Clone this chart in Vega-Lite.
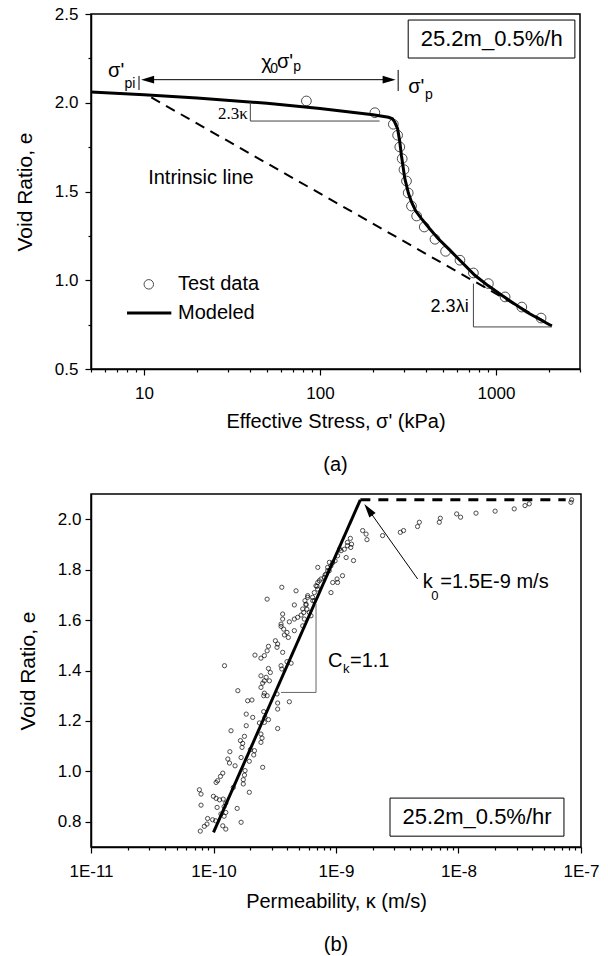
{
"$schema": "https://vega.github.io/schema/vega-lite/v6.json",
"padding": {"left": 13, "top": 4, "right": 0, "bottom": 0},
"spacing": 17,
"config": {
  "font": "Liberation Sans",
  "view": {"stroke": "black", "strokeWidth": 1.5},
  "axis": {"domainColor": "black", "domainWidth": 1.5, "tickColor": "black", "tickWidth": 1.2, "labelFont": "Liberation Sans", "labelFontSize": 17, "labelColor": "black", "titleFont": "Liberation Sans", "titleFontSize": 20, "titleFontWeight": "normal", "titleColor": "black", "grid": false, "labelPadding": 5, "labelOverlap": false, "labelFlush": false},
  "axisY": {"titleFontSize": 21},
  "title": {"font": "Liberation Sans", "fontSize": 20, "fontWeight": "normal", "color": "black"}
},
"datasets": {
  "a_test": [{"stress":83.7,"e":2.01},{"stress":205,"e":1.944},{"stress":261,"e":1.879},{"stress":276,"e":1.817},{"stress":284,"e":1.751},{"stress":293,"e":1.685},{"stress":300,"e":1.623},{"stress":310,"e":1.559},{"stress":317,"e":1.492},{"stress":331,"e":1.418},{"stress":354,"e":1.362},{"stress":391,"e":1.300},{"stress":450,"e":1.231},{"stress":517,"e":1.163},{"stress":624,"e":1.113},{"stress":744,"e":1.041},{"stress":905,"e":0.981},{"stress":1126,"e":0.906},{"stress":1401,"e":0.849},{"stress":1803,"e":0.787}],
  "a_model": [{"stress":5,"e":2.06},{"stress":10,"e":2.045},{"stress":20,"e":2.027},{"stress":50,"e":1.997},{"stress":100,"e":1.968},{"stress":200,"e":1.932},{"stress":245,"e":1.918},{"stress":258,"e":1.91},{"stress":266,"e":1.89},{"stress":276,"e":1.854},{"stress":284,"e":1.78},{"stress":290,"e":1.704},{"stress":303,"e":1.575},{"stress":318,"e":1.49},{"stress":331,"e":1.441},{"stress":350,"e":1.39},{"stress":377,"e":1.347},{"stress":420,"e":1.29},{"stress":470,"e":1.234},{"stress":540,"e":1.175},{"stress":611,"e":1.121},{"stress":758,"e":1.028},{"stress":900,"e":0.97},{"stress":1078,"e":0.915},{"stress":1500,"e":0.82},{"stress":2075,"e":0.742}],
  "a_intrinsic": [{"stress":11,"e":2.03},{"stress":2075,"e":0.745}],
  "a_box": [{"stress":317,"stress2":2806,"e":2.466,"e2":2.252}],
  "a_boxlabel": [{"stress":945,"e":2.359,"label":"25.2m_0.5%/h"}],
  "a_slopes": [{"stress":40.2,"stress2":40.2,"e":1.897,"e2":2.003},{"stress":40.2,"stress2":218,"e":1.897,"e2":1.897},{"stress":744,"stress2":744,"e":0.981,"e2":0.737},{"stress":744,"stress2":2075,"e":0.737,"e2":0.737}],
  "a_arrow": [{"stress":10.49,"stress2":247,"e":2.13,"e2":2.13},{"stress":9.37,"stress2":9.37,"e":2.072,"e2":2.151},{"stress":278,"stress2":278,"e":2.066,"e2":2.185}],
  "a_headleft": [{"stress":10.49,"e":2.13}],
  "a_headright": [{"stress":247,"e":2.13}],
  "a_text": [{"stress":10.56,"e":1.576,"label":"Intrinsic line"},{"stress":15.6,"e":0.979,"label":"Test data"},{"stress":15.6,"e":0.818,"label":"Modeled"},{"stress":6.25,"e":2.179,"label":"σ'"},{"stress":46.4,"e":2.224,"label":"χ"},{"stress":56.9,"e":2.23,"label":"σ'"},{"stress":317,"e":2.089,"label":"σ'"}],
  "a_sub": [{"stress":7.75,"e":2.106,"label":"pi"},{"stress":52.2,"e":2.19,"label":"0"},{"stress":70.5,"e":2.201,"label":"p"},{"stress":395,"e":2.044,"label":"p"}],
  "a_kappa": [{"stress":38.9,"e":1.937,"label":"2.3κ"}],
  "a_lambda": [{"stress":699,"e":0.849,"label":"2.3λi"}],
  "a_legpoint": [{"stress":10.65,"e":0.977}],
  "a_legline": [{"stress":8.01,"stress2":14.3,"e":0.816,"e2":0.816}],
  "b_scatter": [{"k":1.90e-10,"e":1.280},{"k":2.06e-10,"e":1.283},{"k":3.34e-10,"e":1.271},{"k":3.34e-10,"e":1.247},{"k":4.16e-10,"e":1.276},{"k":1.85e-10,"e":1.227},{"k":2.09e-10,"e":1.214},{"k":2.57e-10,"e":1.237},{"k":2.63e-10,"e":1.214},{"k":2.81e-10,"e":1.205},{"k":2.60e-10,"e":1.194},{"k":2.37e-10,"e":1.192},{"k":1.85e-10,"e":1.181},{"k":1.39e-10,"e":1.161},{"k":3.34e-10,"e":1.170},{"k":1.79e-10,"e":1.139},{"k":1.66e-10,"e":1.122},{"k":2.44e-10,"e":1.148},{"k":2.49e-10,"e":1.132},{"k":2.44e-10,"e":1.115},{"k":1.73e-10,"e":1.111},{"k":1.71e-10,"e":1.095},{"k":1.36e-10,"e":1.078},{"k":2.00e-10,"e":1.086},{"k":2.16e-10,"e":1.082},{"k":2.13e-10,"e":1.065},{"k":1.31e-10,"e":1.049},{"k":1.35e-10,"e":1.033},{"k":1.68e-10,"e":1.055},{"k":1.50e-10,"e":1.022},{"k":1.96e-10,"e":1.040},{"k":1.81e-10,"e":1.003},{"k":1.79e-10,"e":0.985},{"k":1.75e-10,"e":0.967},{"k":1.75e-10,"e":0.950},{"k":2.52e-10,"e":1.016},{"k":1.19e-10,"e":0.993},{"k":1.14e-10,"e":0.980},{"k":1.08e-10,"e":0.963},{"k":1.05e-10,"e":0.956},{"k":1.45e-10,"e":0.936},{"k":7.67e-11,"e":0.927},{"k":7.91e-11,"e":0.910},{"k":1.96e-10,"e":0.917},{"k":9.98e-11,"e":0.901},{"k":1.05e-10,"e":0.893},{"k":1.12e-10,"e":0.887},{"k":1.20e-10,"e":0.890},{"k":1.26e-10,"e":0.874},{"k":7.91e-11,"e":0.866},{"k":1.07e-10,"e":0.857},{"k":1.22e-10,"e":0.860},{"k":1.56e-10,"e":0.853},{"k":1.26e-10,"e":0.837},{"k":1.15e-10,"e":0.831},{"k":1.22e-10,"e":0.822},{"k":9.84e-11,"e":0.808},{"k":1.04e-10,"e":0.804},{"k":8.95e-11,"e":0.813},{"k":8.85e-11,"e":0.791},{"k":8.41e-11,"e":0.782},{"k":7.80e-11,"e":0.763},{"k":1.19e-10,"e":0.784},{"k":1.26e-10,"e":0.771},{"k":1.68e-10,"e":0.798},
    {"k":1.07e-9,"e":1.882},{"k":9.83e-10,"e":1.835},{"k":8.83e-10,"e":1.829},{"k":8.55e-10,"e":1.796},{"k":8.15e-10,"e":1.779},{"k":7.55e-10,"e":1.763},{"k":7.10e-10,"e":1.749},{"k":7.00e-10,"e":1.734},{"k":7.10e-10,"e":1.809},{"k":1.02e-9,"e":1.763},{"k":6.46e-10,"e":1.677},{"k":5.87e-10,"e":1.697},{"k":5.58e-10,"e":1.677},{"k":5.69e-10,"e":1.660},{"k":5.35e-10,"e":1.644},{"k":4.72e-10,"e":1.716},{"k":4.57e-10,"e":1.660},{"k":3.61e-10,"e":1.730},{"k":2.74e-10,"e":1.683},{"k":5.19e-10,"e":1.620},{"k":4.86e-10,"e":1.611},{"k":4.57e-10,"e":1.604},{"k":4.16e-10,"e":1.593},{"k":3.67e-10,"e":1.624},{"k":3.67e-10,"e":1.604},{"k":3.56e-10,"e":1.584},{"k":3.56e-10,"e":1.575},{"k":3.74e-10,"e":1.564},{"k":3.98e-10,"e":1.551},{"k":3.79e-10,"e":1.541},{"k":4.08e-10,"e":1.531},{"k":4.57e-10,"e":1.558},{"k":3.20e-10,"e":1.518},{"k":3.34e-10,"e":1.505},{"k":3.30e-10,"e":1.492},{"k":2.81e-10,"e":1.496},{"k":2.74e-10,"e":1.478},{"k":2.60e-10,"e":1.459},{"k":2.44e-10,"e":1.449},{"k":2.18e-10,"e":1.461},{"k":3.67e-10,"e":1.472},{"k":4.30e-10,"e":1.429},{"k":3.98e-10,"e":1.435},{"k":3.56e-10,"e":1.419},{"k":3.61e-10,"e":1.406},{"k":2.81e-10,"e":1.408},{"k":2.91e-10,"e":1.392},{"k":2.44e-10,"e":1.379},{"k":2.69e-10,"e":1.373},{"k":2.60e-10,"e":1.359},{"k":2.86e-10,"e":1.359},{"k":2.52e-10,"e":1.350},{"k":2.44e-10,"e":1.333},{"k":2.60e-10,"e":1.310},{"k":2.74e-10,"e":1.300},{"k":2.57e-10,"e":1.300},{"k":1.23e-10,"e":1.419},{"k":1.58e-10,"e":1.320},{"k":3.30e-10,"e":1.307},
    {"k":8.28e-8,"e":2.067},{"k":8.39e-8,"e":2.077},{"k":3.78e-8,"e":2.061},{"k":3.49e-8,"e":2.054},{"k":2.85e-8,"e":2.041},{"k":1.99e-8,"e":2.032},{"k":1.39e-8,"e":2.024},{"k":1.04e-8,"e":2.008},{"k":9.66e-9,"e":2.021},{"k":6.97e-9,"e":1.988},{"k":7.10e-9,"e":2.004},{"k":4.79e-9,"e":1.988},{"k":4.63e-9,"e":1.971},{"k":3.56e-9,"e":1.955},{"k":3.35e-9,"e":1.948},{"k":2.40e-9,"e":1.935},{"k":1.79e-9,"e":1.919},{"k":1.76e-9,"e":1.941},{"k":1.65e-9,"e":1.955},
    {"k":1.31e-9,"e":1.924},{"k":1.24e-9,"e":1.908},{"k":1.34e-9,"e":1.901},{"k":1.32e-9,"e":1.888},{"k":1.24e-9,"e":1.895},{"k":1.17e-9,"e":1.881},{"k":1.10e-9,"e":1.875},{"k":1.03e-9,"e":1.855},{"k":1.21e-9,"e":1.848},{"k":1.39e-9,"e":1.836},{"k":9.40e-10,"e":1.828},{"k":9.10e-10,"e":1.815},{"k":8.55e-10,"e":1.809},{"k":8.81e-10,"e":1.796},{"k":8.28e-10,"e":1.782},{"k":8.02e-10,"e":1.769},{"k":7.31e-10,"e":1.756},{"k":6.86e-10,"e":1.736},{"k":7.08e-10,"e":1.723},{"k":1.13e-9,"e":1.776},{"k":1.03e-9,"e":1.749},{"k":9.40e-10,"e":1.749},{"k":9.10e-10,"e":1.709},{"k":6.65e-10,"e":1.709},{"k":6.44e-10,"e":1.690},{"k":6.65e-10,"e":1.676},{"k":5.86e-10,"e":1.690},{"k":5.69e-10,"e":1.663},{"k":5.79e-10,"e":1.643},{"k":5.45e-10,"e":1.630},{"k":6.05e-10,"e":1.630},{"k":6.25e-10,"e":1.617},{"k":5.51e-10,"e":1.604},{"k":5.35e-10,"e":1.577}],
  "b_fit": [{"k":1.0e-10,"e":0.758},{"k":1.58e-9,"e":2.077}],
  "b_dash": [{"k":1.58e-9,"e":2.077},{"k":7.5e-8,"e":2.077}],
  "b_slope": [{"k":3.556e-10,"k2":6.87e-10,"e":1.313,"e2":1.313},{"k":6.87e-10,"k2":6.87e-10,"e":1.313,"e2":1.664}],
  "b_arrow": [{"k":4.64e-9,"k2":1.839e-9,"e":1.763,"e2":2.038}],
  "b_head": [{"k":1.839e-9,"e":2.038}],
  "b_box": [{"k":2.76e-9,"k2":7.26e-8,"e":0.894,"e2":0.743}],
  "b_boxlabel": [{"k":1.416e-8,"e":0.819,"label":"25.2m_0.5%/hr"}],
  "b_text": [{"k":5.10e-9,"e":1.751,"label":"k"},{"k":7.1e-9,"e":1.751,"label":"=1.5E-9 m/s"},{"k":8.6e-10,"e":1.438,"label":"C"},{"k":1.30e-9,"e":1.438,"label":"=1.1"}],
  "b_sub": [{"k":6.0e-9,"e":1.695,"label":"0"},{"k":1.14e-9,"e":1.406,"label":"k"}]
},
"vconcat": [
{
  "width": 489, "height": 355,
  "title": {"text": "(a)", "orient": "bottom", "offset": 24},
  "encoding": {
    "x": {"field": "stress", "type": "quantitative", "scale": {"type": "log", "domain": [5, 3000], "nice": false},
      "axis": {"title": "Effective Stress, σ' (kPa)", "values": [5,6,7,8,9,10,20,30,40,50,60,70,80,90,100,200,300,400,500,600,700,800,900,1000,2000,3000],
        "labelExpr": "indexof([10,100,1000], datum.value) >= 0 ? datum.value + '' : ''",
        "tickSize": {"condition": {"test": "indexof([10,100,1000], datum.value) >= 0", "value": 6}, "value": 3}, "labelPadding": 10, "titlePadding": 10}},
    "y": {"field": "e", "type": "quantitative", "scale": {"domain": [0.5, 2.5], "nice": false, "zero": false},
      "axis": {"title": "Void Ratio, e", "values": [0.5,0.75,1,1.25,1.5,1.75,2,2.25,2.5],
        "labelExpr": "round(datum.value*4) % 2 === 0 ? format(datum.value, '.1f') : ''",
        "tickSize": {"condition": {"test": "round(datum.value*4) % 2 === 0", "value": 6}, "value": 3}, "labelPadding": 7, "titlePadding": 19}}
  },
  "layer": [
    {"data": {"name": "a_box"}, "mark": {"type": "rect", "fill": "white", "stroke": "black", "strokeWidth": 1}, "encoding": {"x2": {"field": "stress2"}, "y2": {"field": "e2"}}},
    {"data": {"name": "a_boxlabel"}, "mark": {"type": "text", "fontSize": 22, "align": "center", "baseline": "middle", "color": "black"}, "encoding": {"text": {"field": "label"}}},
    {"data": {"name": "a_intrinsic"}, "mark": {"type": "line", "color": "black", "strokeWidth": 2, "strokeDash": [10, 7]}, "encoding": {}},
    {"data": {"name": "a_test"}, "mark": {"type": "point", "shape": "circle", "filled": false, "color": "black", "size": 95, "strokeWidth": 1}},
    {"data": {"name": "a_model"}, "mark": {"type": "line", "color": "black", "strokeWidth": 3}, "encoding": {}},
    {"data": {"name": "a_slopes"}, "mark": {"type": "rule", "color": "#444", "strokeWidth": 1}, "encoding": {"x2": {"field": "stress2"}, "y2": {"field": "e2"}}},
    {"data": {"name": "a_arrow"}, "mark": {"type": "rule", "color": "black", "strokeWidth": 1}, "encoding": {"x2": {"field": "stress2"}, "y2": {"field": "e2"}}},
    {"data": {"name": "a_headleft"}, "mark": {"type": "point", "shape": "M-1,0L1,-0.6L1,0.6Z", "filled": true, "color": "black", "size": 169, "opacity": 1}},
    {"data": {"name": "a_headright"}, "mark": {"type": "point", "shape": "M1,0L-1,-0.6L-1,0.6Z", "filled": true, "color": "black", "size": 169, "opacity": 1}},
    {"data": {"name": "a_text"}, "mark": {"type": "text", "fontSize": 20, "align": "left", "baseline": "middle", "color": "black"}, "encoding": {"text": {"field": "label"}}},
    {"data": {"name": "a_sub"}, "mark": {"type": "text", "fontSize": 14, "align": "left", "baseline": "middle", "color": "black"}, "encoding": {"text": {"field": "label"}}},
    {"data": {"name": "a_kappa"}, "mark": {"type": "text", "font": "Liberation Serif", "fontSize": 17, "align": "right", "baseline": "middle", "color": "black"}, "encoding": {"text": {"field": "label"}}},
    {"data": {"name": "a_lambda"}, "mark": {"type": "text", "fontSize": 18, "align": "right", "baseline": "middle", "color": "black"}, "encoding": {"text": {"field": "label"}}},
    {"data": {"name": "a_legpoint"}, "mark": {"type": "point", "shape": "circle", "filled": false, "color": "black", "size": 90, "strokeWidth": 1}},
    {"data": {"name": "a_legline"}, "mark": {"type": "rule", "color": "black", "strokeWidth": 3}, "encoding": {"x2": {"field": "stress2"}, "y2": {"field": "e2"}}}
  ]
},
{
  "width": 490, "height": 353,
  "title": {"text": "(b)", "orient": "bottom", "offset": 24},
  "encoding": {
    "x": {"field": "k", "type": "quantitative", "scale": {"type": "log", "domain": [1e-11, 1e-7], "nice": false},
      "axis": {"title": "Permeability, κ (m/s)", "values": [1e-11,2e-11,3e-11,4e-11,5e-11,6e-11,7e-11,8e-11,9e-11,1e-10,2e-10,3e-10,4e-10,5e-10,6e-10,7e-10,8e-10,9e-10,1e-9,2e-9,3e-9,4e-9,5e-9,6e-9,7e-9,8e-9,9e-9,1e-8,2e-8,3e-8,4e-8,5e-8,6e-8,7e-8,8e-8,9e-8,1e-7],
        "labelExpr": "indexof([1e-11,1e-10,1e-9,1e-8,1e-7], datum.value) >= 0 ? '1E' + round(log(datum.value)/LN10) : ''",
        "tickSize": {"condition": {"test": "indexof([1e-11,1e-10,1e-9,1e-8,1e-7], datum.value) >= 0", "value": 6}, "value": 3}, "labelPadding": 10, "titlePadding": 12}},
    "y": {"field": "e", "type": "quantitative", "scale": {"domain": [0.7, 2.1], "nice": false, "zero": false},
      "axis": {"title": "Void Ratio, e", "values": [0.8,1,1.2,1.4,1.6,1.8,2], "format": ".1f", "tickSize": 6, "labelPadding": 4, "titlePadding": 19}}
  },
  "layer": [
    {"data": {"name": "b_box"}, "mark": {"type": "rect", "fill": "white", "stroke": "black", "strokeWidth": 1}, "encoding": {"x2": {"field": "k2"}, "y2": {"field": "e2"}}},
    {"data": {"name": "b_boxlabel"}, "mark": {"type": "text", "fontSize": 22, "align": "center", "baseline": "middle", "color": "black"}, "encoding": {"text": {"field": "label"}}},
    {"data": {"name": "b_scatter"}, "mark": {"type": "point", "shape": "circle", "filled": false, "color": "black", "size": 18, "strokeWidth": 1}},
    {"data": {"name": "b_fit"}, "mark": {"type": "line", "color": "black", "strokeWidth": 3}, "encoding": {}},
    {"data": {"name": "b_dash"}, "mark": {"type": "line", "color": "black", "strokeWidth": 3, "strokeDash": [10, 8]}, "encoding": {}},
    {"data": {"name": "b_slope"}, "mark": {"type": "rule", "color": "#666", "strokeWidth": 1}, "encoding": {"x2": {"field": "k2"}, "y2": {"field": "e2"}}},
    {"data": {"name": "b_arrow"}, "mark": {"type": "rule", "color": "black", "strokeWidth": 1}, "encoding": {"x2": {"field": "k2"}, "y2": {"field": "e2"}}},
    {"data": {"name": "b_head"}, "mark": {"type": "point", "shape": "M0,-1L0.55,1L-0.55,1Z", "angle": 324.5, "filled": true, "color": "black", "size": 196, "opacity": 1}},
    {"data": {"name": "b_text"}, "mark": {"type": "text", "fontSize": 20, "align": "left", "baseline": "middle", "color": "black"}, "encoding": {"text": {"field": "label"}}},
    {"data": {"name": "b_sub"}, "mark": {"type": "text", "fontSize": 13, "align": "left", "baseline": "middle", "color": "black"}, "encoding": {"text": {"field": "label"}}}
  ]
}
]
}
